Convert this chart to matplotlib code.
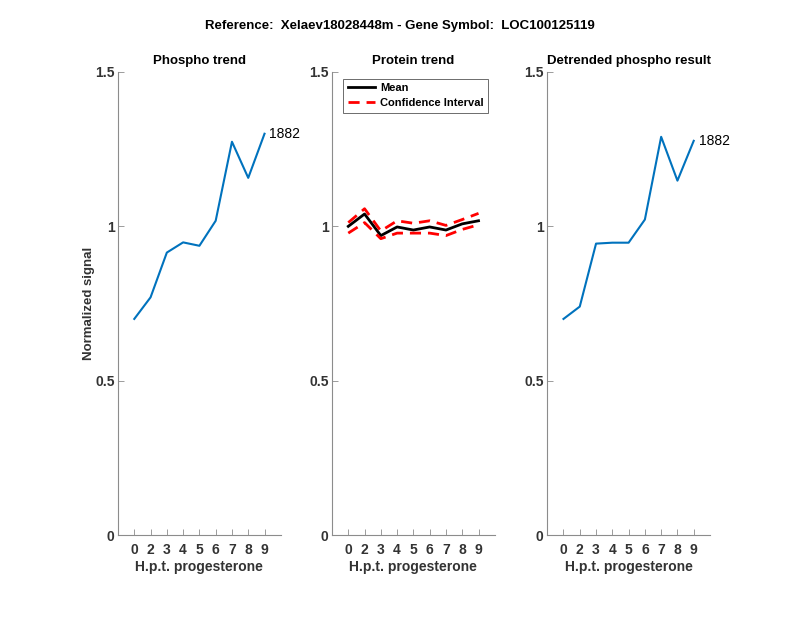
import matplotlib.pyplot as plt
import numpy as np

plt.rcParams['font.family'] = ['Liberation Sans', 'DejaVu Sans']

x_pos = [1, 2, 3, 4, 5, 6, 7, 8, 9]
x_labels = ['0', '2', '3', '4', '5', '6', '7', '8', '9']

phospho = [0.70, 0.77, 0.915, 0.948, 0.937, 1.018, 1.274, 1.157, 1.30]
protein_mean = [1.0, 1.04, 0.97, 0.998, 0.988, 0.998, 0.988, 1.008, 1.018]
protein_upper = [1.012, 1.057, 0.985, 1.018, 1.01, 1.018, 1.003, 1.022, 1.042]
protein_lower = [0.978, 1.012, 0.960, 0.978, 0.978, 0.978, 0.97, 0.99, 1.005]
detrended = [0.70, 0.74, 0.944, 0.947, 0.947, 1.022, 1.29, 1.148, 1.277]

label_id = '1882'
blue = '#0072BD'
text_color = '#333333'
spine_color = '#8c8c8c'


def style_axis(ax, title):
    ax.set_xlim(0, 10)
    ax.set_ylim(0, 1.5)
    ax.set_xticks(x_pos)
    ax.set_xticklabels(x_labels, fontweight='bold')
    ax.set_yticks([0, 0.5, 1, 1.5])
    ax.set_yticklabels(['0', '0.5', '1', '1.5'], fontweight='bold')
    ax.tick_params(direction='in', length=4, labelsize=10, colors=spine_color,
                   labelcolor=text_color, width=0.6)
    ax.tick_params(axis='x', pad=6)
    ax.tick_params(axis='y', pad=2.5)
    for side in ['top', 'right']:
        ax.spines[side].set_visible(False)
    for side in ['left', 'bottom']:
        ax.spines[side].set_color(spine_color)
        ax.spines[side].set_linewidth(0.8)
    ax.set_title(title, fontsize=9.5, fontweight='bold', pad=6)
    ax.set_xlabel('H.p.t. progesterone', fontsize=10, fontweight='bold', labelpad=2,
                  color=text_color)


fig = plt.figure(figsize=(8, 6.18), dpi=100)
lefts = [0.1475, 0.415, 0.684]
axes = [fig.add_axes([l, 0.1343, 0.2035, 0.7492]) for l in lefts]

# 1
ax = axes[0]
ax.plot(x_pos, phospho, color=blue, linewidth=1.5)
ax.text(9.3, phospho[-1], label_id, fontsize=10, va='center')
style_axis(ax, 'Phospho trend')
ax.set_ylabel('Normalized signal', fontsize=9.5, fontweight='bold', color=text_color,
              labelpad=0)

# 2
ax = axes[1]
ax.plot(x_pos, protein_mean, color='black', linewidth=2, label='Mean')
ax.plot(x_pos, protein_upper, color='red', linewidth=2, linestyle='--', dashes=(4, 2.5),
        label='Confidence Interval')
ax.plot(x_pos, protein_lower, color='red', linewidth=2, linestyle='--', dashes=(4, 2.5))
style_axis(ax, 'Protein trend')
leg = ax.legend(loc='upper left', bbox_to_anchor=(0.07, 0.985),
                prop={'weight': 'bold', 'size': 8}, fancybox=False, framealpha=1,
                edgecolor='#555555', handlelength=2.4, handletextpad=0.5,
                borderpad=0.4, labelspacing=0.45, borderaxespad=0)
leg.get_frame().set_linewidth(0.6)

# 3
ax = axes[2]
ax.plot(x_pos, detrended, color=blue, linewidth=1.5)
ax.text(9.3, detrended[-1], label_id, fontsize=10, va='center')
style_axis(ax, 'Detrended phospho result')

fig.suptitle('Reference:  Xelaev18028448m - Gene Symbol:  LOC100125119',
             fontsize=9.5, fontweight='bold', y=0.958, va='center')

fig.savefig('out.png', dpi=100)
